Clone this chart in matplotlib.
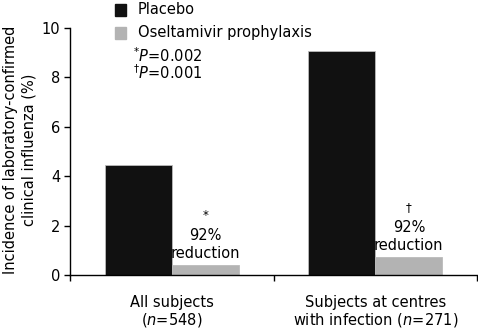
import matplotlib
matplotlib.use("Agg")
import matplotlib.pyplot as plt
import numpy as np

# datos
grupos = [("All subjects", "($\\it{n}$=548)"), ("Subjects at centres", "with infection ($\\it{n}$=271)")]
placebo = [4.45, 9.08]
oseltamivir = [0.4, 0.72]
marcas = ["*", "\u2020"]
series = ["Placebo", "Oseltamivir prophylaxis"]
valores_p = ["$^{*}\\it{P}$=0.002", "$^{\\dag}\\it{P}$=0.001"]

plt.rcParams["font.family"] = "DejaVu Sans"
plt.rcParams["mathtext.fontset"] = "dejavusans"
fs = 10.5

W, H = 478, 333
fig = plt.figure(figsize=(W / 100, H / 100), dpi=100)
ax = fig.add_axes([70 / W, 1 - 275 / H, 407 / W, (275 - 28) / H])

centros = np.array([0.5, 1.5])
ancho = 0.33
ax.bar(centros - ancho / 2, placebo, ancho, color="#111111", edgecolor="#bbbbbb", linewidth=0.6)
ax.bar(centros + ancho / 2, oseltamivir, ancho, color="#b3b3b3", edgecolor="#bbbbbb", linewidth=0.6)

ax.set_xlim(0, 2)
ax.set_ylim(0, 10)
ax.set_yticks([0, 2, 4, 6, 8, 10])
ax.set_xticks([0, 1, 2])
ax.set_xticklabels([])
ax.tick_params(axis="y", direction="out", length=4, width=1, labelsize=fs, pad=3)
ax.tick_params(axis="x", direction="out", length=4, width=1)
for s in ["top", "right"]:
    ax.spines[s].set_visible(False)
for s in ["left", "bottom"]:
    ax.spines[s].set_linewidth(1)

# etiquetas de los grupos
for c, (l1, l2) in zip(centros, grupos):
    ax.annotate(l1, (c, 0), xytext=(0, -27), textcoords="offset pixels", ha="center", va="center", fontsize=fs)
    ax.annotate(l2, (c, 0), xytext=(0, -45), textcoords="offset pixels", ha="center", va="center", fontsize=fs)

# anotaciones de reduccion
for c, v, m in zip(centros, oseltamivir, marcas):
    x = c + ancho / 2
    ax.annotate("reduction", (x, v), xytext=(0, 12), textcoords="offset pixels", ha="center", va="center", fontsize=fs)
    ax.annotate("92%", (x, v), xytext=(0, 30), textcoords="offset pixels", ha="center", va="center", fontsize=fs)
    ax.annotate(m, (x, v), xytext=(0, 50), textcoords="offset pixels", ha="center", va="center", fontsize=8.5)

fig.text(20 / W, 1 - 150 / H, "Incidence of laboratory-confirmed\nclinical influenza (%)", rotation=90,
         ha="center", va="center", fontsize=fs, linespacing=1.3, multialignment="center")

# valores P
fig.text(133 / W, 1 - 56 / H, valores_p[0], ha="left", va="center", fontsize=fs)
fig.text(133 / W, 1 - 73 / H, valores_p[1], ha="left", va="center", fontsize=fs)

# leyenda manual
fig.patches.append(plt.Rectangle((115 / W, 1 - 16 / H), 11 / W, 12 / H, transform=fig.transFigure,
                                 color="#111111", figure=fig))
fig.patches.append(plt.Rectangle((115 / W, 1 - 39 / H), 11 / W, 12 / H, transform=fig.transFigure,
                                 color="#b3b3b3", figure=fig))
fig.text(138 / W, 1 - 10 / H, series[0], va="center", fontsize=fs)
fig.text(138 / W, 1 - 33 / H, series[1], va="center", fontsize=fs)

fig.savefig("out.png", dpi=100)
